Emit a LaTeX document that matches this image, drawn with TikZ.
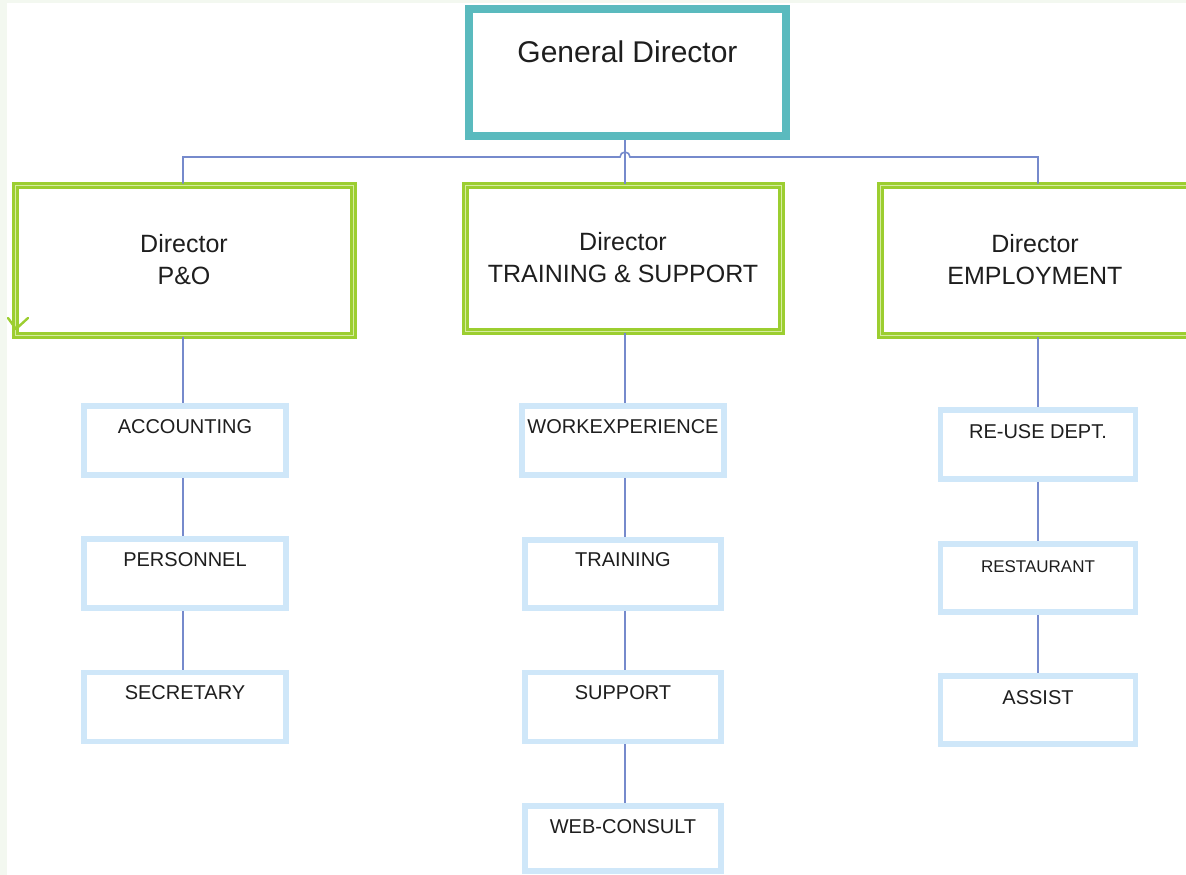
\documentclass[tikz,border=0pt]{standalone}
\usepackage{fontspec}
\setmainfont{Liberation Sans}
\definecolor{bgstrip}{RGB}{243,248,240}
\definecolor{gdteal}{RGB}{90,186,190}
\definecolor{dirgreen}{RGB}{156,206,48}
\definecolor{dirinner}{RGB}{214,236,160}
\definecolor{subblue}{RGB}{207,231,249}
\definecolor{conn}{RGB}{118,138,204}
\definecolor{txt}{RGB}{30,30,30}
\begin{document}
\begin{tikzpicture}[x=1pt,y=-1pt,
  gdbox/.style={draw=gdteal, line width=8pt, fill=white, minimum width=317pt, inner ysep=0pt,
     text height=54pt, text depth=73pt, text=txt, font=\fontsize{30}{36}\selectfont},
  dirbox/.style={draw=dirgreen, line width=3pt, double=dirinner, double distance=1pt, fill=white,
     align=center, text=txt, font=\fontsize{25}{32}\selectfont},
  subbox/.style={draw=subblue, line width=5.5pt, fill=white, inner ysep=0pt, inner xsep=0pt,
     text height=27pt, text depth=42pt, text=txt, font=\fontsize{20}{24}\selectfont},
  link/.style={draw=conn, line width=1.6pt}
]
\useasboundingbox (0,0) rectangle (1186,875);
\fill[bgstrip] (0,0) rectangle (1186,875);
\fill[white] (7,3) rectangle (1186,875);

% General director
\node[gdbox] (gd) at (627.5,72.5) {General Director};

% Directors
\node[dirbox, minimum width=338pt, minimum height=150pt] (po) at (184,260) {Director\\P\&O};
\node[dirbox, minimum width=316pt, minimum height=146pt] (ts) at (623,258) {Director\\TRAINING \& SUPPORT};
\node[dirbox, minimum width=310pt, minimum height=150pt] (em) at (1035,260) {Director\\EMPLOYMENT};

% chevron mark
\draw[dirgreen, line width=2.4pt, line cap=round, line join=round] (8,318) -- (16,329) -- (28,318);

% P&O column
\node[subbox, minimum width=202pt] (acc) at (185,440.5) {ACCOUNTING};
\node[subbox, minimum width=202pt] (per) at (185,573.5) {PERSONNEL};
\node[subbox, minimum width=202pt] (sec) at (185,707) {SECRETARY};

% Training column
\node[subbox, minimum width=202pt] (wex) at (623,440.5) {WORKEXPERIENCE};
\node[subbox, minimum width=196pt, text height=26pt, text depth=42pt] (tra) at (623,574) {TRAINING};
\node[subbox, minimum width=196pt] (sup) at (623,707) {SUPPORT};
\node[subbox, minimum width=196pt, text depth=38pt] (web) at (623,838.5) {WEB-CONSULT};

% Employment column
\node[subbox, minimum width=195pt, text height=28pt, text depth=41pt] (reu) at (1038,444.5) {RE-USE DEPT.};
\node[subbox, minimum width=195pt, text height=28pt, text depth=40pt, font=\fontsize{17}{20}\selectfont] (res) at (1038,578) {RESTAURANT};
\node[subbox, minimum width=195pt, text height=28pt, text depth=40pt] (ass) at (1038,710) {ASSIST};

% Connectors
\coordinate (jl) at (183,157);
\coordinate (jm) at (625,157);
\coordinate (jr) at (1038,157);
\draw[link] (jl |- po.north) -- (jl) -- ([xshift=-5pt]jm) arc[start angle=180, end angle=0, radius=5pt] -- (jr) -- (jr |- em.north);
\draw[link] (jm |- gd.south) -- (jm |- ts.north);

\draw[link] (jl |- po.south) -- (jl |- acc.north);
\draw[link] (jl |- acc.south) -- (jl |- per.north);
\draw[link] (jl |- per.south) -- (jl |- sec.north);

\draw[link] (jm |- ts.south) -- (jm |- wex.north);
\draw[link] (jm |- wex.south) -- (jm |- tra.north);
\draw[link] (jm |- tra.south) -- (jm |- sup.north);
\draw[link] (jm |- sup.south) -- (jm |- web.north);

\draw[link] (jr |- em.south) -- (jr |- reu.north);
\draw[link] (jr |- reu.south) -- (jr |- res.north);
\draw[link] (jr |- res.south) -- (jr |- ass.north);
\end{tikzpicture}
\end{document}
